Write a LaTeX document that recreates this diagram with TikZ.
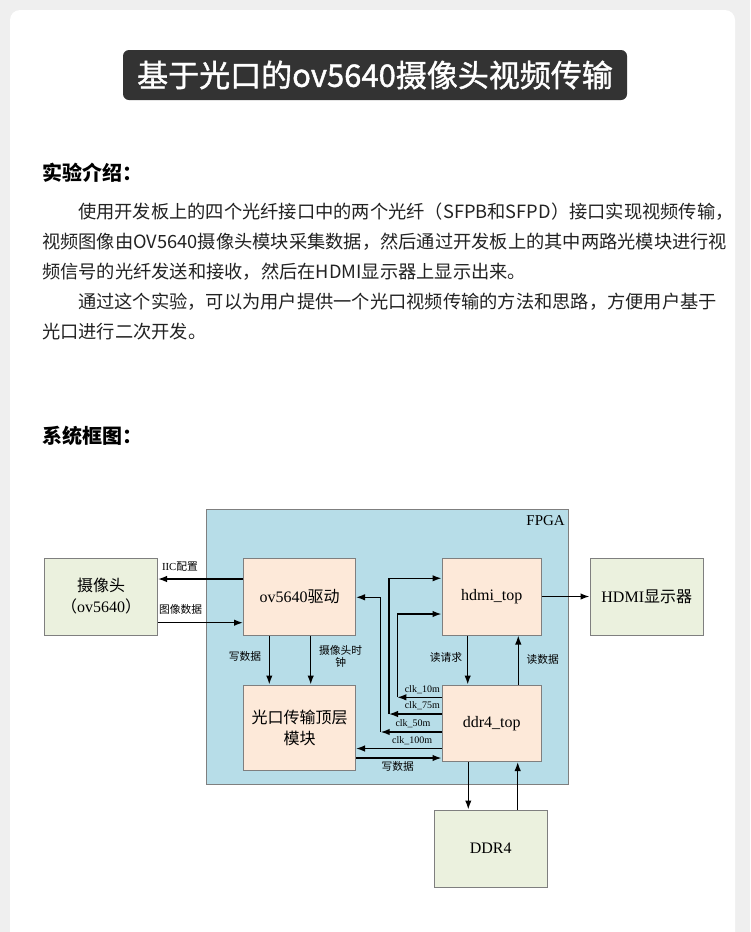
\documentclass[tikz,border=0pt]{standalone}
\usepackage{fontspec}
\setmainfont{Liberation Serif}
\newfontfamily\cjk{Noto Sans CJK SC}
\newfontfamily\cjktitle{Noto Sans CJK SC}[FakeBold=1.3]
\usetikzlibrary{arrows.meta,calc}
\definecolor{pagebg}{HTML}{EFEFEF}
\definecolor{titlebg}{HTML}{333333}
\definecolor{fpgablue}{HTML}{B7DDE8}
\definecolor{peach}{HTML}{FDE9D9}
\definecolor{sage}{HTML}{EBF1DE}
\definecolor{edgegray}{HTML}{7F7F7F}
\definecolor{ink}{HTML}{222222}
\begin{document}
\begin{tikzpicture}[x=1pt,y=-1pt,
  blk/.style={draw=edgegray, line width=1pt, inner sep=0pt, align=center, font=\fontsize{16}{21}\selectfont},
  mod/.style={blk, fill=peach},
  ext/.style={blk, fill=sage},
  arr/.style={line width=1.4pt, -{Latex[length=9pt,width=6.5pt]}},
  lbl/.style={inner sep=0pt, align=center, font=\fontsize{10.75}{12}\selectfont\cjk},
  clk/.style={inner sep=0pt, anchor=east, font=\fontsize{10}{12}\selectfont},
  body/.style={anchor=west, inner sep=0pt, text=ink, font=\fontsize{18.25}{20}\selectfont\cjk},
  head/.style={anchor=west, inner sep=0pt, text=black, font=\fontsize{20}{22}\selectfont\cjk\bfseries},
]
\useasboundingbox (0,0) rectangle (750,932);
\fill[pagebg] (0,0) rectangle (750,932);
\fill[white, rounded corners=10pt] (10,10) rectangle (735,960);

\node[fill=titlebg, rounded corners=6pt, minimum width=504pt, minimum height=50pt, inner sep=0pt, text=white, font=\fontsize{31}{33}\selectfont\cjktitle] (title) at (375,75) {基于光口的ov5640摄像头视频传输};

\node[head] (h1) at (42,173) {实验介绍：};
\node[body] (p1) at (78,212) {使用开发板上的四个光纤接口中的两个光纤（SFPB和SFPD）接口实现视频传输，};
\node[body] (p2) at (42,242) {视频图像由OV5640摄像头模块采集数据，然后通过开发板上的其中两路光模块进行视};
\node[body] (p3) at (42,272) {频信号的光纤发送和接收，然后在HDMI显示器上显示出来。};
\node[body] (p4) at (78,302) {通过这个实验，可以为用户提供一个光口视频传输的方法和思路，方便用户基于};
\node[body] (p5) at (42,332) {光口进行二次开发。};
\node[head] (h2) at (42,436) {系统框图：};

% FPGA region
\node[fill=fpgablue, draw=edgegray, line width=1pt, minimum width=362pt, minimum height=275pt, inner sep=0pt] (fpga) at (387,647) {};
\node[anchor=north east, inner sep=0pt, font=\fontsize{15}{17}\selectfont] (fpgalbl) at (565,515) {FPGA};

% blocks
\node[ext, minimum width=113pt, minimum height=77pt] (cam) at (101,596.5) {{\cjk 摄像头}\\{\cjk （}ov5640{\cjk ）}};
\node[mod, minimum width=112pt, minimum height=77pt] (ov) at (299.5,596.5) {ov5640{\cjk 驱动}};
\node[mod, minimum width=99.5pt, minimum height=77pt] (hdmi) at (491.75,596.5) {hdmi\_top};
\node[ext, minimum width=113.5pt, minimum height=77pt] (disp) at (646.75,596.5) {HDMI{\cjk 显示器}};
\node[mod, minimum width=112pt, minimum height=85pt, font=\fontsize{16}{21}\selectfont\cjk] (gk) at (299.5,727.5) {光口传输顶层\\模块};
\node[mod, minimum width=99.5pt, minimum height=76.5pt] (ddr) at (491.75,723.25) {ddr4\_top};
\node[ext, minimum width=112.5pt, minimum height=77pt] (mem) at (490.75,848.5) {DDR4};

% connectors
\draw[arr] (ov.west |- 0,579) -- (cam.east |- 0,579);
\draw[arr] (cam.east |- 0,622.7) -- (ov.west |- 0,622.7);
\draw[arr] (hdmi.east) -- (disp.west);
\draw[arr] (ov.south -| 269.3,0) -- (gk.north -| 269.3,0);
\draw[arr] (ov.south -| 310.7,0) -- (gk.north -| 310.7,0);
\draw[arr] (hdmi.south -| 467.7,0) -- (ddr.north -| 467.7,0);
\draw[arr] (ddr.north -| 518.3,0) -- (hdmi.south -| 518.3,0);
\draw[arr] (ddr.south -| 468.3,0) -- (mem.north -| 468.3,0);
\draw[arr] (mem.north -| 517.7,0) -- (ddr.south -| 517.7,0);

\coordinate (k10) at (397.3,697.3);
\coordinate (k75) at (389,714);
\coordinate (k50) at (380.7,732);
\draw[arr] (ddr.west |- k10) -- (k10);
\draw[arr] (k10) |- (hdmi.west |- 0,614);
\draw[arr] (ddr.west |- k75) -- (k75);
\draw[arr] (k75) |- (hdmi.west |- 0,578.3);
\draw[arr] (ddr.west |- k50) -- (k50);
\draw[arr] (k50) |- (ov.east |- 0,597.3);
\draw[arr] (ddr.west |- 0,748.5) -- (gk.east |- 0,748.5);
\draw[arr] (gk.east |- 0,758) -- (ddr.west |- 0,758);

% labels
\node[lbl] (l1) at (180,566.7) {{\rmfamily IIC}配置};
\node[lbl] (l2) at (180.7,609) {图像数据};
\node[lbl] (l3) at (245,656.7) {写数据};
\node[lbl] (l4) at (340.7,656.7) {摄像头时\\钟};
\node[lbl] (l5) at (446,657) {读请求};
\node[lbl] (l6) at (542.7,659.3) {读数据};
\node[lbl] (l7) at (397.7,766.7) {写数据};
\node[clk] (c1) at (440,690) {clk\_10m};
\node[clk] (c2) at (440,705.7) {clk\_75m};
\node[clk] (c3) at (430.7,723.3) {clk\_50m};
\node[clk] (c4) at (432.3,740.7) {clk\_100m};
\end{tikzpicture}
\end{document}
